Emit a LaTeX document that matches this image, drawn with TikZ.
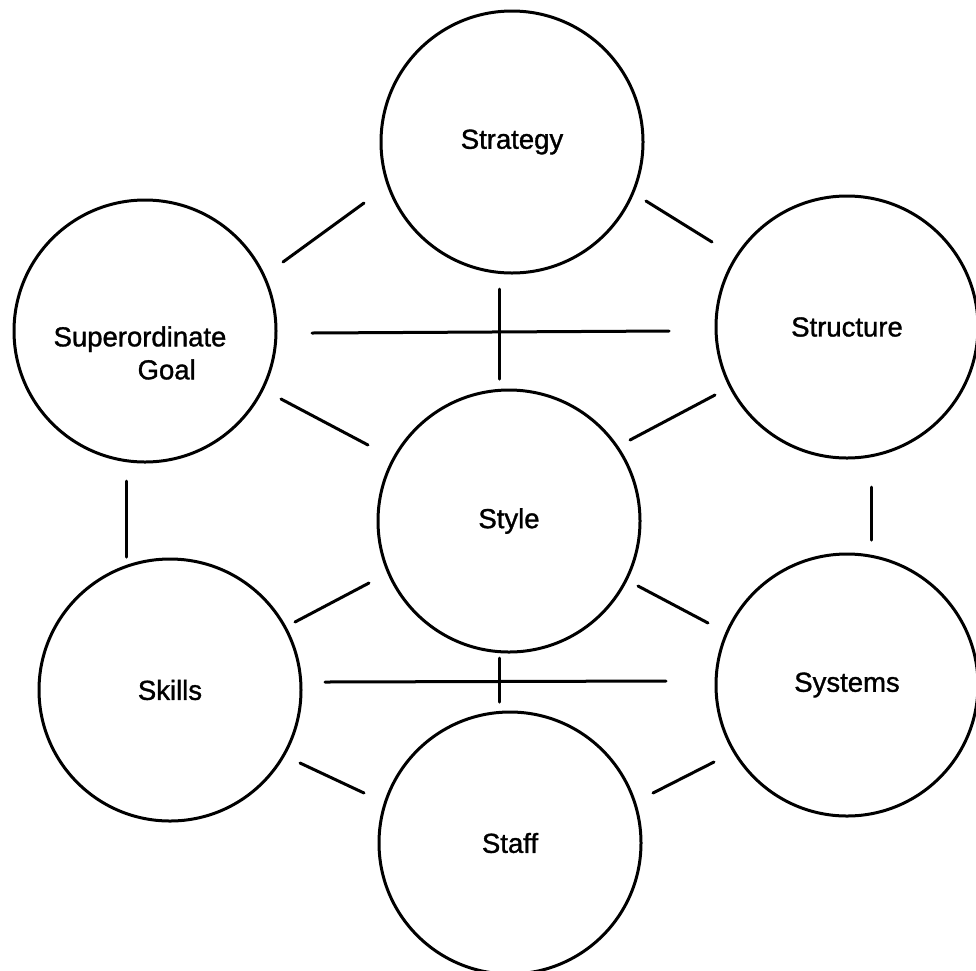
\documentclass[tikz,border=0pt]{standalone}
\usepackage{fontspec}
\setmainfont{Liberation Sans}
\newfontfamily\elemfont{Liberation Sans}[FakeBold=1.2]
\usetikzlibrary{calc}

\tikzset{
  elemtext/.style={font=\elemfont\fontsize{27.5}{33}\selectfont},
  sbox/.style={circle, draw=black, line width=3pt, minimum size=262pt,
    inner sep=0pt, elemtext},
  conn/.style={draw=black, line width=3pt, line cap=round},
}

\begin{document}
\begin{tikzpicture}[x=1pt, y=-1pt]
  % page frame
  \fill[white] (0,0) rectangle (976,970);
  \useasboundingbox (0,0) rectangle (976,970);

  % the seven elements
  \node[sbox] (strat)   at (512,142) {Strategy};
  \node[sbox, label={[name=goaltext, align=left, xshift=-5pt, yshift=-22pt,
      elemtext]center:Superordinate\\\hspace*{84pt}Goal}]
      (goal)    at (145,331) {};
  \node[sbox] (struct)  at (847,327) {Structure};
  \node[sbox] (style)   at (509,521) {Style};
  \node[sbox] (skills)  at (170,690) {Skills};
  \node[sbox] (systems) at (847,685) {Systems};
  \node[sbox] (staff)   at (510,843) {Staff};

  % links between the elements (short strokes in the gaps)
  \draw[conn] ($(goal)+(138,-69)$)    -- ($(strat)+(-148,61)$);
  \draw[conn] ($(strat)+(134,59)$)    -- ($(struct)+(-135,-85)$);
  \draw[conn] ($(strat)+(-13,147)$)   -- ($(style)+(-10,-142)$);
  \draw[conn] ($(goal)+(167,2)$)      -- ($(struct)+(-178,4)$);
  \draw[conn] ($(goal)+(136,68)$)     -- ($(style)+(-141,-76)$);
  \draw[conn] ($(struct)+(-132,68)$)  -- ($(style)+(121,-81)$);
  \draw[conn] ($(goal)+(-19,150)$)    -- ($(skills)+(-44,-133)$);
  \draw[conn] ($(struct)+(24,160)$)   -- ($(systems)+(24,-145)$);
  \draw[conn] ($(style)+(-140,62)$)   -- ($(skills)+(125,-68)$);
  \draw[conn] ($(style)+(129,65)$)    -- ($(systems)+(-139,-62)$);
  \draw[conn] ($(skills)+(155,-8)$)   -- ($(systems)+(-181,-4)$);
  \draw[conn] ($(style)+(-10,137)$)   -- ($(staff)+(-11,-141)$);
  \draw[conn] ($(skills)+(130,73)$)   -- ($(staff)+(-146,-50)$);
  \draw[conn] ($(systems)+(-133,77)$) -- ($(staff)+(143,-50)$);
\end{tikzpicture}
\end{document}
